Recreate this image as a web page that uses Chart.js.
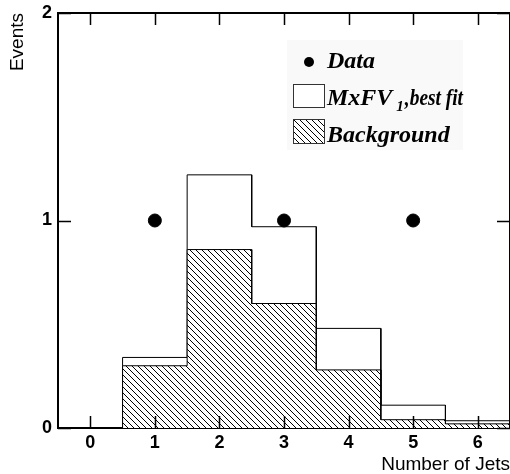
<!DOCTYPE html>
<html>
<head>
<meta charset="utf-8">
<script src="https://cdn.jsdelivr.net/npm/chart.js@4/dist/chart.umd.min.js"></script>
<style>
  html, body { margin: 0; padding: 0; background: #fff; }
  #wrap { width: 510px; height: 474px; }
</style>
</head>
<body>
<div id="wrap"><canvas id="chart_area" width="510" height="474"></canvas></div>
<script>
// histogram bins (number of jets)
const bins = [0, 1, 2, 3, 4, 5, 6];
const fitValues = [0, 0.34, 1.22, 0.97, 0.48, 0.11, 0.035];
const bkgValues = [0, 0.30, 0.86, 0.60, 0.28, 0.04, 0.02];
const dataJets = [1, 3, 5];
const dataEvents = [1, 1, 1];
const xTicks = [0, 1, 2, 3, 4, 5, 6];
const yTicks = [0, 1, 2];

// outline of a histogram: each bin gives its left and right edge
function stepPoints(values) {
  let pts = [];
  for (let i = 0; i < bins.length; i++) {
    pts.push({x: bins[i] - 0.5, y: values[i]});
    pts.push({x: bins[i] + 0.5, y: values[i]});
  }
  return pts;
}

function makeHatch() {
  const c = document.createElement('canvas');
  c.width = 6;
  c.height = 6;
  const g = c.getContext('2d');
  g.fillStyle = '#fff';
  g.fillRect(0, 0, 6, 6);
  g.fillStyle = '#000';
  for (let i = 0; i < 6; i++) {
    g.fillRect(i, i, 1, 1);
  }
  return g.createPattern(c, 'repeat');
}
const hatch = makeHatch();

// inward ticks, top/right frame and the legend box
const frame = {
  id: 'frame',
  afterDraw(chart) {
    const ctx = chart.ctx;
    const a = chart.chartArea;
    const xs = chart.scales.x;
    const ys = chart.scales.y;
    ctx.save();
    ctx.strokeStyle = '#000';
    ctx.lineWidth = 2;
    ctx.beginPath();
    ctx.moveTo(a.left, a.top);
    ctx.lineTo(a.right, a.top);
    ctx.lineTo(a.right, a.bottom);
    ctx.stroke();
    ctx.lineWidth = 1.5;
    ctx.beginPath();
    xTicks.forEach(function (v) {
      const px = Math.round(xs.getPixelForValue(v)) + 0.5;
      ctx.moveTo(px, a.bottom);
      ctx.lineTo(px, a.bottom - 12);
      ctx.moveTo(px, a.top);
      ctx.lineTo(px, a.top + 12);
    });
    yTicks.forEach(function (v) {
      const py = Math.round(ys.getPixelForValue(v)) + 0.5;
      ctx.moveTo(a.left, py);
      ctx.lineTo(a.left + 13, py);
      ctx.moveTo(a.right, py);
      ctx.lineTo(a.right - 13, py);
    });
    ctx.stroke();

    // legend
    ctx.fillStyle = '#f9f9f9';
    ctx.fillRect(287, 40, 176, 110);
    ctx.fillStyle = '#000';
    ctx.beginPath();
    ctx.arc(309, 62, 5, 0, Math.PI * 2);
    ctx.fill();
    ctx.lineWidth = 1;
    ctx.strokeStyle = '#333';
    ctx.fillStyle = '#fff';
    ctx.fillRect(293.5, 84.5, 31, 23);
    ctx.strokeRect(293.5, 84.5, 31, 23);
    ctx.fillStyle = hatch;
    ctx.fillRect(293.5, 119.5, 31, 24);
    ctx.strokeRect(293.5, 119.5, 31, 24);

    ctx.fillStyle = '#000';
    ctx.textBaseline = 'alphabetic';
    ctx.textAlign = 'left';
    ctx.font = 'bold italic 24px "Liberation Serif"';
    ctx.fillText('Data', 327, 68);
    ctx.fillText('MxFV', 327, 105);
    let x1 = 327 + ctx.measureText('MxFV').width + 4;
    ctx.font = 'bold italic 15px "Liberation Serif"';
    ctx.fillText('1', x1, 111);
    x1 += ctx.measureText('1').width + 1;
    ctx.font = 'bold italic 24px "Liberation Serif"';
    ctx.fillText(',best fit', x1, 105, 463 - x1);
    ctx.fillText('Background', 327, 142, 131);
    ctx.restore();
  }
};

const ctx = document.getElementById('chart_area').getContext('2d');
const chart = new Chart(ctx, {
  type: 'line',
  data: {
    datasets: [{
      label: 'Data',
      type: 'scatter',
      data: dataJets.map((x, i) => ({x: x, y: dataEvents[i]})),
      backgroundColor: '#000',
      borderColor: '#000',
      pointRadius: 6.5,
      order: 0
    }, {
      label: 'Background',
      data: stepPoints(bkgValues),
      borderColor: '#000',
      borderWidth: 1,
      backgroundColor: hatch,
      fill: 'origin',
      pointRadius: 0,
      tension: 0,
      order: 1
    }, {
      label: 'MxFV_1 ,best fit',
      data: stepPoints(fitValues),
      borderColor: '#000',
      borderWidth: 1,
      backgroundColor: '#fff',
      fill: 'origin',
      pointRadius: 0,
      tension: 0,
      order: 2
    }]
  },
  options: {
    responsive: false,
    animation: false,
    layout: { autoPadding: false, padding: { top: 13, right: 0, left: 0, bottom: 0 } },
    plugins: {
      legend: { display: false },
      tooltip: { enabled: false }
    },
    scales: {
      x: {
        type: 'linear',
        min: -0.5,
        max: 6.5,
        afterBuildTicks: function (axis) { axis.ticks = xTicks.map(v => ({value: v})); },
        afterFit: function (axis) {
          axis.height = 46;
          axis.paddingLeft = 0;
          axis.paddingRight = 0;
        },
        grid: { display: false, drawTicks: false },
        border: { display: true, color: '#000', width: 2 },
        ticks: {
          color: '#000',
          padding: 4,
          font: { family: '"Liberation Sans"', size: 18, weight: 'bold' }
        },
        title: {
          display: true,
          text: 'Number of Jets',
          align: 'end',
          color: '#000',
          padding: { top: 0, bottom: 0, right: 3 },
          font: { family: '"Liberation Sans"', size: 19, lineHeight: 1 }
        }
      },
      y: {
        type: 'linear',
        min: 0,
        max: 2,
        afterBuildTicks: function (axis) { axis.ticks = yTicks.map(v => ({value: v})); },
        afterFit: function (axis) {
          axis.width = 58;
          axis.paddingTop = 0;
          axis.paddingBottom = 0;
        },
        grid: { display: false, drawTicks: false },
        border: { display: true, color: '#000', width: 2 },
        ticks: {
          color: '#000',
          padding: 6,
          font: { family: '"Liberation Sans"', size: 18, weight: 'bold' }
        },
        title: {
          display: true,
          text: 'Events',
          align: 'end',
          color: '#000',
          padding: { top: 8, bottom: 0 },
          font: { family: '"Liberation Sans"', size: 19, lineHeight: 1 }
        }
      }
    }
  },
  plugins: [frame]
});
</script>
</body>
</html>
